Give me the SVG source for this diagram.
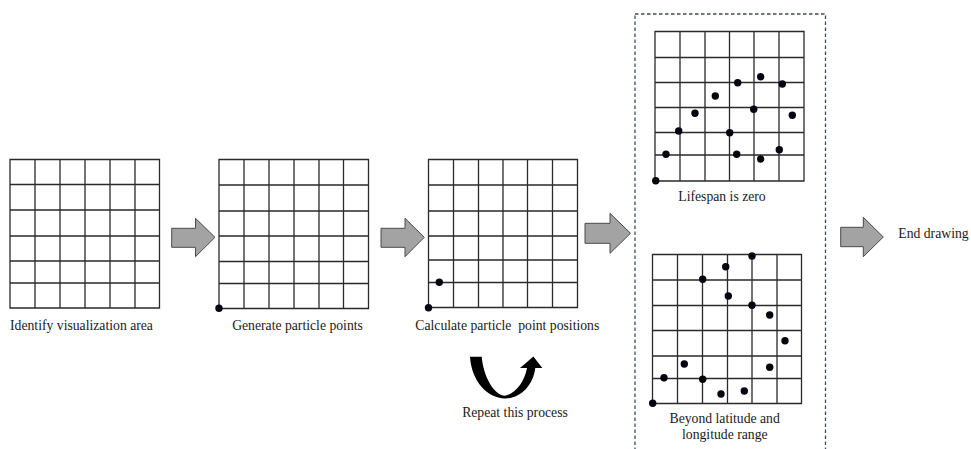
<svg xmlns="http://www.w3.org/2000/svg" width="971" height="449" viewBox="0 0 971 449">
  <style>
    .grid { fill: none; stroke: #2a2a2a; stroke-width: 1.3; }
    .dot { fill: #05050f; }
    .label { font-family: "Liberation Serif", "Times New Roman", serif; font-size: 13.7px; fill: #1a1a1a; text-anchor: middle; white-space: pre; }
    .block-arrow { fill: #a3a3a3; stroke: #4a4a4a; stroke-width: 1; stroke-linejoin: miter; }
    .frame { fill: none; stroke: #3d4a66; stroke-width: 1.3; stroke-dasharray: 3.5 2.5; }
  </style>
  <rect width="971" height="449" fill="#ffffff"/>

  <!-- Step 1: visualization area -->
  <g id="step-identify">
    <path class="grid" d="M10,159.5H159.5V308H10Z M35,159.5V308 M60,159.5V308 M85,159.5V308 M110,159.5V308 M135,159.5V308 M10,184.5H159.5 M10,210H159.5 M10,236H159.5 M10,261H159.5 M10,283H159.5"/>
    <text class="label" x="81.5" y="330">Identify visualization area</text>
  </g>

  <!-- Step 2: particle generation -->
  <g id="step-generate">
    <path class="grid" d="M219,159.5H368.5V308.5H219Z M244,159.5V308.5 M269,159.5V308.5 M294,159.5V308.5 M319,159.5V308.5 M343.5,159.5V308.5 M219,185H368.5 M219,211H368.5 M219,236H368.5 M219,261.5H368.5 M219,283.5H368.5"/>
    <circle class="dot" cx="219" cy="308.3" r="3.7"/>
    <text class="label" x="297.5" y="330">Generate particle points</text>
  </g>

  <!-- Step 3: position update -->
  <g id="step-calculate">
    <path class="grid" d="M428.5,159.5H577.5V307.5H428.5Z M453.5,159.5V307.5 M478.5,159.5V307.5 M503,159.5V307.5 M527.5,159.5V307.5 M552.5,159.5V307.5 M428.5,185H577.5 M428.5,211H577.5 M428.5,236H577.5 M428.5,260H577.5 M428.5,282.5H577.5"/>
    <circle class="dot" cx="428.5" cy="307.8" r="3.7"/>
    <circle class="dot" cx="439.3" cy="282.2" r="3.7"/>
    <text class="label" x="507.3" y="330">Calculate particle  point positions</text>
  </g>

  <!-- Loop marker -->
  <g id="step-repeat">
    <path fill="#000" d="M470,356.7 L481.7,356.7 C483.5,377 494,395 505,395.8 C515,394 524.5,382 527,368 L520,368 L533.4,356.4 L542.3,368 L535.3,368 C533,386 520,398.5 505,398.5 C487,398 471.5,381 470,356.7 Z"/>
    <text class="label" x="515" y="417.3">Repeat this process</text>
  </g>

  <!-- Termination conditions -->
  <g id="termination">
    <rect class="frame" x="635" y="14" width="190.5" height="445"/>
  </g>

  <g id="outcome-lifespan">
    <path class="grid" d="M655,31.5H804V181H655Z M680,31.5V181 M705,31.5V181 M729.5,31.5V181 M754,31.5V181 M779,31.5V181 M655,57.5H804 M655,82.5H804 M655,107.5H804 M655,132.5H804 M655,155H804"/>
    <g class="dot">
      <circle cx="655.7" cy="180.7" r="3.7"/>
      <circle cx="666" cy="154.3" r="3.7"/>
      <circle cx="678.7" cy="131" r="3.7"/>
      <circle cx="695" cy="113.3" r="3.7"/>
      <circle cx="715.3" cy="96" r="3.7"/>
      <circle cx="737.7" cy="82.7" r="3.7"/>
      <circle cx="760.7" cy="76.7" r="3.7"/>
      <circle cx="782.3" cy="84" r="3.7"/>
      <circle cx="753.7" cy="109.3" r="3.7"/>
      <circle cx="792.3" cy="115.3" r="3.7"/>
      <circle cx="729.7" cy="132.7" r="3.7"/>
      <circle cx="736.7" cy="154.3" r="3.7"/>
      <circle cx="760.7" cy="159" r="3.7"/>
      <circle cx="779.3" cy="149.7" r="3.7"/>
    </g>
    <text class="label" x="722" y="201">Lifespan is zero</text>
  </g>

  <g id="outcome-range">
    <path class="grid" d="M652.5,254.5H801.5V403.5H652.5Z M677.5,254.5V403.5 M702.5,254.5V403.5 M727.5,254.5V403.5 M752,254.5V403.5 M777,254.5V403.5 M652.5,280H801.5 M652.5,305.5H801.5 M652.5,330.5H801.5 M652.5,356H801.5 M652.5,378.5H801.5"/>
    <g class="dot">
      <circle cx="652.7" cy="403.3" r="3.7"/>
      <circle cx="664" cy="377.7" r="3.7"/>
      <circle cx="684.3" cy="364" r="3.7"/>
      <circle cx="702.7" cy="379.3" r="3.7"/>
      <circle cx="721" cy="394" r="3.7"/>
      <circle cx="744.3" cy="391" r="3.7"/>
      <circle cx="769.7" cy="367.3" r="3.7"/>
      <circle cx="785" cy="340.7" r="3.7"/>
      <circle cx="769.7" cy="315" r="3.7"/>
      <circle cx="752" cy="305.3" r="3.7"/>
      <circle cx="728.3" cy="296" r="3.7"/>
      <circle cx="702.7" cy="279.3" r="3.7"/>
      <circle cx="725.7" cy="266.7" r="3.7"/>
      <circle cx="752" cy="256" r="3.7"/>
    </g>
    <text class="label" x="724.7" y="423.3">Beyond latitude and</text>
    <text class="label" x="724.8" y="439">longitude range</text>
  </g>

  <g id="step-end">
    <text class="label" x="898.3" y="238" style="text-anchor:start">End drawing</text>
  </g>

  <!-- Flow arrows between stages -->
  <g id="connectors">
    <path class="block-arrow" d="M171.7,228.3H195.5V218.3L215,237.3L195.5,256.7V247.3H171.7Z"/>
    <path class="block-arrow" d="M381,228.3H405V218.3L424.3,237.3L405,256.7V247.3H381Z"/>
    <path class="block-arrow" d="M585,223.3H610V213.3L630.5,233.3L610,253.3V243.3H585Z"/>
    <path class="block-arrow" d="M840.7,227.3H863.3V217.3L883.3,237L863.3,256.7V246.7H840.7Z"/>
  </g>
</svg>
